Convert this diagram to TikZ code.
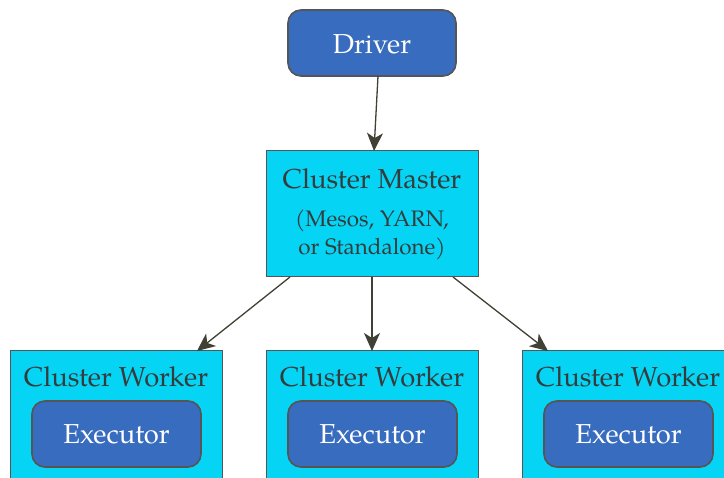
\documentclass[tikz,border=0pt]{standalone}
\usepackage{fontspec}
\setmainfont{TeX Gyre Pagella}
\usetikzlibrary{arrows.meta}
\definecolor{bluebox}{RGB}{56,108,190}
\definecolor{cyanbox}{RGB}{6,212,245}
\definecolor{edgegray}{RGB}{85,85,85}
\definecolor{arrowcol}{RGB}{64,64,52}
\definecolor{darktext}{RGB}{52,60,60}
\tikzset{
  x=1pt, y=-1pt,
  roundbox/.style={draw=edgegray, line width=1.6pt, fill=bluebox, rounded corners=13pt},
  squarebox/.style={draw=edgegray, line width=1pt, fill=cyanbox},
  bigwhite/.style={text=white, font=\fontsize{27.4}{30}\selectfont},
  bigdark/.style={text=darktext, font=\fontsize{27.4}{30}\selectfont},
  smalldark/.style={text=darktext, font=\fontsize{22.4}{28.5}\selectfont, align=center},
  conn/.style={draw=arrowcol, line width=1.3pt, -{Stealth[length=18pt,width=16pt,inset=5pt]}}
}
\begin{document}
\begin{tikzpicture}
\useasboundingbox (0,0) rectangle (724,478);
% Driver
\draw[roundbox] (288,10) rectangle (456,76);
\node[bigwhite] (driver) at (372,44) {Driver};
\coordinate (drvout) at (378,76);
% Master
\draw[squarebox] (266,151) rectangle (478,277);
\node[bigdark] (mastertitle) at (372,179) {Cluster Master};
\node[smalldark] (mastersub) at (372,235) {(Mesos, YARN,\\or Standalone)};
\coordinate (mtop) at (374,151);
\coordinate (mout1) at (290,277);
\coordinate (mout2) at (372,277);
\coordinate (mout3) at (453,277);
% Workers, each holding one executor
\foreach \i/\xl in {1/10, 2/266, 3/522} {
  \draw[squarebox] (\xl,351) rectangle ({\xl+212},490);
  \node[bigdark] (worker\i) at ({\xl+106},377) {Cluster Worker};
  \draw[roundbox] ({\xl+22},401) rectangle ({\xl+191},467);
  \node[bigwhite] (exec\i) at ({\xl+106.5},434) {Executor};
}
\coordinate (win1) at (197,351);
\coordinate (win2) at (372,351);
\coordinate (win3) at (548,351);
% Connectors
\draw[conn] (drvout) -- (mtop);
\draw[conn] (mout1) -- (win1);
\draw[conn] (mout2) -- (win2);
\draw[conn] (mout3) -- (win3);
\end{tikzpicture}
\end{document}
